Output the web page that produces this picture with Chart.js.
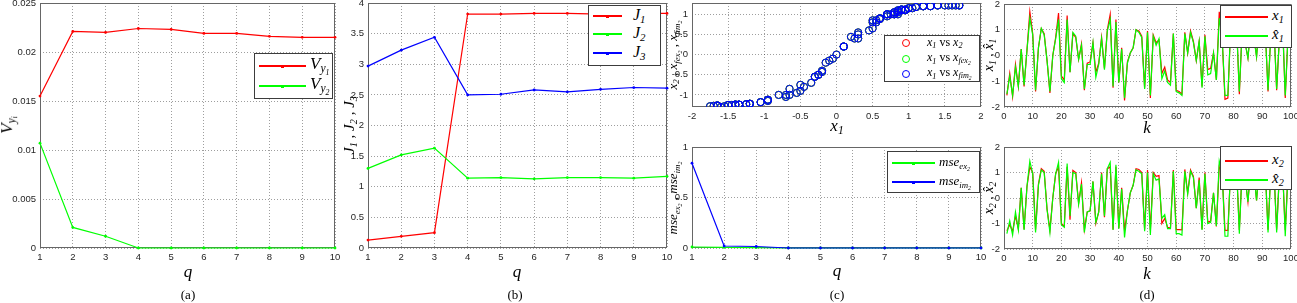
<!DOCTYPE html>
<html>
<head>
<meta charset="utf-8">
<script src="https://cdn.jsdelivr.net/npm/chart.js@4"></script>
<style>
body { margin: 0; background: #fff; }
#fig { position: relative; width: 1297px; height: 303px; overflow: hidden; background: #fff; }
#fig canvas { position: absolute; }
.m { position: absolute; font-family: "Liberation Serif", serif; font-style: italic; white-space: nowrap; color: #000; line-height: 1; }
.m sub { font-size: 68%; vertical-align: -0.3em; }
.m .r { font-style: normal; }
.rot { transform: translate(-50%, -50%) rotate(-90deg); }
.ctr { transform: translate(-50%, -50%); }
.lft { transform: translate(0, -50%); }
.cap { position: absolute; font-family: "Liberation Serif", serif; font-size: 13px; transform: translate(-50%, -50%); }
.leg { position: absolute; background: #fff; border: 1px solid #3c3c3c; box-sizing: border-box; }
.ln { position: absolute; height: 1.5px; }
.dot { position: absolute; width: 3px; height: 3px; }
.circ { position: absolute; width: 8px; height: 8px; border: 1.2px solid; border-radius: 50%; box-sizing: border-box; }
</style>
</head>
<body>
<div id="fig"></div>
<script>
// ---- dados ----
const qs = [1, 2, 3, 4, 5, 6, 7, 8, 9, 10];

// (a)
const Vy1 = [0.0155, 0.0221, 0.0220, 0.0224, 0.0223, 0.0219, 0.0219, 0.0216, 0.0215, 0.0215];
const Vy2 = [0.0107, 0.0021, 0.0012, 0, 0, 0, 0, 0, 0, 0];

// (b)
const J1 = [0.13, 0.19, 0.25, 3.82, 3.82, 3.83, 3.83, 3.82, 3.83, 3.83];
const J2 = [1.30, 1.52, 1.63, 1.14, 1.15, 1.13, 1.15, 1.15, 1.14, 1.17];
const J3 = [2.97, 3.23, 3.44, 2.50, 2.51, 2.58, 2.55, 2.59, 2.62, 2.61];

// (c) baixo
const mseEx2 = [0.010, 0.006, 0.004, 0, 0, 0, 0, 0, 0, 0];
const mseIm2 = [0.84, 0.02, 0.015, 0, 0, 0, 0, 0, 0, 0];

// (d) k = 1..100
const ks = Array.from({ length: 100 }, (_, i) => i + 1);
const x1 = [-1.55, -0.70, -1.60, -0.35, -1.20, 0.25, -1.20, 0.20, 1.70, 0.85,
  -1.40, 0.30, 1.05, 0.85, -0.20, -1.45, 0.00, 0.70, 1.65, -0.80,
  -0.95, 1.55, -0.65, 0.85, 0.70, -0.15, 0.45, -1.35, -0.30, -0.25,
  0.50, -0.65, -0.30, 0.70, -0.50, 1.00, 1.60, -1.25, 1.40, -1.05,
  0.30, -1.75, -0.25, 0.10, 0.30, 1.00, 0.95, 0.75, -1.25, 0.95,
  -1.65, 0.80, 0.50, 0.60, -0.70, -0.45, -0.95, -1.05, 0.85, -1.35,
  -1.40, -1.50, 0.90, 0.10, 0.95, 0.55, -0.20, 0.55, -1.20, 0.80,
  -0.55, -0.50, 0.10, -0.95, 1.70, 0.70, -1.70, -1.65, 1.20, 0.60,
  1.30, -1.50, 1.10, 0.50, -0.10, 1.20, 0.80, -0.05, 1.40, 0.60,
  1.10, -1.40, 0.90, 1.30, -1.35, 0.80, 1.50, -1.65, 0.90, 1.20];
const x1hat = [-1.50, -0.80, -1.55, -0.45, -1.20, 0.25, -1.15, 0.20, 1.45, 0.80,
  -1.35, 0.30, 1.05, 0.80, -0.20, -1.40, 0.00, 0.65, 1.40, -0.90,
  -1.05, 1.40, -0.65, 0.90, 0.75, -0.15, 0.40, -1.30, -0.35, -0.35,
  0.50, -0.85, -0.35, 0.65, -0.55, 0.95, 1.40, -1.20, 1.30, -1.05,
  0.25, -1.65, -0.30, 0.10, 0.30, 1.00, 0.90, 0.70, -1.30, 0.90,
  -1.55, 0.75, 0.40, 0.65, -0.90, -0.60, -1.05, -1.15, 0.85, -1.40,
  -1.45, -1.55, 0.85, 0.10, 0.90, 0.50, -0.20, 0.55, -1.25, 0.75,
  -0.75, -0.70, 0.10, -0.95, 1.45, 0.70, -1.55, -1.55, 1.10, 0.60,
  1.20, -1.40, 1.00, 0.50, -0.10, 1.10, 0.75, -0.05, 1.25, 0.60,
  1.00, -1.35, 0.85, 1.20, -1.30, 0.75, 1.35, -1.55, 0.85, 1.10];
const x2 = [-1.28, -1.05, -1.30, -0.70, -1.22, 0.40, -1.22, 0.44, 1.22, 1.00,
  -1.24, 0.55, 1.15, 1.05, -0.43, -1.25, 0.00, 0.95, 1.22, -1.00,
  -1.12, 1.22, -0.85, 1.08, 1.00, -0.20, 0.60, -1.24, -0.55, -0.50,
  0.65, -1.00, -0.55, 1.00, -0.75, 1.15, 1.22, -1.23, 1.22, -1.18,
  0.40, -1.28, -0.50, 0.20, 0.50, 1.15, 1.12, 1.00, -1.23, 1.10,
  -1.26, 1.00, 0.85, 0.88, -1.00, -0.80, -1.15, -1.18, 1.10, -1.24,
  -1.24, -1.25, 1.12, 0.20, 1.10, 0.85, -0.40, 0.80, -1.22, 1.00,
  -0.95, -0.90, 0.20, -1.12, 1.22, 1.00, -1.27, -1.27, 1.20, 0.90,
  1.20, -1.25, 1.18, 0.80, -0.15, 1.20, 1.05, -0.10, 1.22, 0.90,
  1.18, -1.24, 1.12, 1.20, -1.24, 1.05, 1.22, -1.26, 1.10, 1.20];
const x2hat = [-1.40, -0.90, -1.45, -0.55, -1.25, 0.40, -1.25, 0.45, 1.45, 0.95,
  -1.35, 0.50, 1.10, 1.00, -0.45, -1.35, 0.00, 0.95, 1.40, -1.05,
  -1.15, 1.35, -0.70, 1.00, 0.95, -0.25, 0.55, -1.35, -0.55, -0.50,
  0.65, -0.95, -0.55, 0.95, -0.70, 1.15, 1.40, -1.25, 1.30, -1.20,
  0.35, -1.55, -0.50, 0.20, 0.50, 1.10, 1.05, 0.95, -1.30, 1.00,
  -1.45, 0.95, 0.70, 0.75, -0.80, -0.65, -1.20, -1.20, 1.05, -1.40,
  -1.40, -1.45, 1.05, 0.15, 1.05, 0.80, -0.40, 0.70, -1.25, 0.95,
  -1.00, -0.95, 0.20, -1.10, 1.45, 1.00, -1.50, -1.50, 1.30, 0.90,
  1.30, -1.40, 1.20, 0.80, -0.15, 1.25, 1.05, -0.10, 1.35, 0.90,
  1.20, -1.35, 1.10, 1.30, -1.35, 1.05, 1.40, -1.50, 1.10, 1.35];
// estimativas de x2 no grafico (c): praticamente sobrepostas a x2
const xfex2 = x2;
const xfim2 = x2;

// ---- estilo ----
const RED = "#ff0000", GREEN = "#00ff00", BLUE = "#0000ff";
const gridColor = "rgba(0,0,0,0.38)";
const tickFont = { family: "Liberation Sans", size: 9.5 };
const fig = document.getElementById("fig");

function fmt(v) { return String(parseFloat(Number(v).toFixed(6))); }

// moldura do eixo (box on), por baixo das curvas
const frame = {
    id: "frame",
    beforeDatasetsDraw(chart) {
        const { ctx, chartArea: a } = chart;
        ctx.save();
        ctx.strokeStyle = "#666";
        ctx.lineWidth = 1;
        ctx.strokeRect(Math.round(a.left) + 0.5, Math.round(a.top) + 0.5,
            Math.round(a.right - a.left) - 1, Math.round(a.bottom - a.top) - 1);
        ctx.restore();
    }
};

function axis(min, max, step, isX, size) {
    return {
        type: "linear", min: min, max: max,
        grid: { color: gridColor, drawTicks: false, lineWidth: 1 },
        border: { display: false, dash: [1, 2] },
        ticks: { stepSize: step, color: "#262626", font: tickFont, padding: 4,
            maxRotation: 0, autoSkip: false, includeBounds: false, callback: fmt },
        afterFit: isX ? s => { s.height = size; } : s => { s.width = size; }
    };
}

function pts(xs, ys) { return xs.map((x, i) => ({ x: x, y: ys[i] })); }

function line(label, xs, ys, color, marks) {
    return { label: label, data: pts(xs, ys), borderColor: color, backgroundColor: color,
        borderWidth: 1.2, pointRadius: marks ? 1.4 : 0, pointBorderWidth: 0, tension: 0, clip: 4 };
}

function painel(plot, yW, xH, type, datasets, xr, yr) {
    const padT = 12, padR = 16;
    const c = document.createElement("canvas");
    c.width = yW + plot.r - plot.l + padR;
    c.height = padT + plot.b - plot.t + xH;
    c.style.left = (plot.l - yW) + "px";
    c.style.top = (plot.t - padT) + "px";
    fig.appendChild(c);
    // como no MATLAB: a serie desenhada por ultimo fica por cima
    datasets.forEach((d, i) => { d.order = -i; });
    return new Chart(c, {
        type: type,
        data: { datasets: datasets },
        options: {
            responsive: false, animation: false, devicePixelRatio: 1,
            layout: { padding: { top: padT, right: padR, left: 0, bottom: 0 } },
            plugins: { legend: { display: false }, tooltip: { enabled: false } },
            scales: { x: axis(xr[0], xr[1], xr[2], true, xH), y: axis(yr[0], yr[1], yr[2], false, yW) }
        },
        plugins: [frame]
    });
}

// (a)
painel({ l: 40, r: 335, t: 3, b: 248 }, 40, 20, "line",
    [line("Vy1", qs, Vy1, RED, true), line("Vy2", qs, Vy2, GREEN, true)],
    [1, 10, 1], [0, 0.025, 0.005]);
// (b)
painel({ l: 368, r: 667, t: 3, b: 248 }, 36, 20, "line",
    [line("J1", qs, J1, RED, true), line("J2", qs, J2, GREEN, true), line("J3", qs, J3, BLUE, true)],
    [1, 10, 1], [0, 4, 0.5]);
// (c) cima - dispersao
function circ(label, xs, ys, color) {
    return { label: label, data: pts(xs, ys), borderColor: color, backgroundColor: "rgba(0,0,0,0)",
        pointRadius: 3.6, pointBorderWidth: 1, showLine: false };
}
painel({ l: 692, r: 981, t: 3, b: 107 }, 30, 20, "scatter",
    [circ("x1 vs x2", x1, x2, RED), circ("x1 vs xfex2", x1, xfex2, GREEN), circ("x1 vs xfim2", x1, xfim2, BLUE)],
    [-2, 2, 0.5], [-1.3, 1.28, 0.5]);
// (c) baixo
painel({ l: 692, r: 981, t: 147, b: 248 }, 30, 20, "line",
    [line("mse_ex2", qs, mseEx2, GREEN, true), line("mse_im2", qs, mseIm2, BLUE, true)],
    [1, 10, 1], [0, 1, 0.5]);
// (d)
painel({ l: 1004, r: 1291, t: 4, b: 107 }, 20, 20, "line",
    [line("x1", ks, x1, RED, false), line("x1hat", ks, x1hat, GREEN, false)],
    [0, 100, 10], [-2, 2, 1]);
painel({ l: 1004, r: 1291, t: 147, b: 249 }, 20, 20, "line",
    [line("x2", ks, x2, RED, false), line("x2hat", ks, x2hat, GREEN, false)],
    [0, 100, 10], [-2, 2, 1]);

// ---- textos (titulos, legendas, legendas de painel) ----
function el(cls, css, html) {
    const d = document.createElement("div");
    d.className = cls;
    Object.assign(d.style, css);
    if (html) d.innerHTML = html;
    fig.appendChild(d);
    return d;
}
function txt(html, x, y, size, mode) {
    el("m " + mode, { left: x + "px", top: y + "px", fontSize: size + "px" }, html);
}
function legenda(box, rows) {
    el("leg", { left: box.l + "px", top: box.t + "px", width: (box.r - box.l) + "px", height: (box.b - box.t) + "px" });
    rows.forEach(r => {
        if (r.circle) {
            el("circ", { left: (r.circle - 4) + "px", top: (r.y - 4) + "px", borderColor: r.c });
        } else {
            el("ln", { left: r.x0 + "px", top: (r.y - 0.75) + "px", width: (r.x1 - r.x0) + "px", background: r.c });
            if (r.dot) el("dot", { left: ((r.x0 + r.x1) / 2 - 1.5) + "px", top: (r.y - 1.5) + "px", background: r.c });
        }
        txt(r.html, r.tx, r.y, r.size, "lft");
    });
}

// eixos
txt("<i>V</i><sub><i>y</i><sub><i>i</i></sub></sub>", 9, 125, 17, "rot");
txt("q", 188, 271, 17, "ctr");
txt("J<sub>1</sub> , J<sub>2</sub> , J<sub>3</sub>", 351, 125, 15, "rot");
txt("q", 517, 271, 17, "ctr");
txt("x<sub>2</sub> , x<sub>fex<sub>2</sub></sub> , x<sub>fim<sub>2</sub></sub>", 674, 55, 13, "rot");
txt("x<sub>1</sub>", 837, 127, 17, "ctr");
txt("mse<sub>ex<sub>2</sub></sub> , mse<sub>im<sub>2</sub></sub>", 674, 198, 13, "rot");
txt("q", 837, 270, 17, "ctr");
txt("x<sub>1</sub> , x&#770;<sub>1</sub>", 990, 55, 14, "rot");
txt("k", 1147, 127, 17, "ctr");
txt("x<sub>2</sub> , x&#770;<sub>2</sub>", 990, 198, 14, "rot");
txt("k", 1147, 273, 17, "ctr");

// legendas
legenda({ l: 254, t: 53, r: 333, b: 99 }, [
    { y: 66, c: RED, x0: 259, x1: 306, dot: true, tx: 310, size: 17, html: "V<sub>y<sub>1</sub></sub>" },
    { y: 86, c: GREEN, x0: 259, x1: 306, dot: true, tx: 310, size: 17, html: "V<sub>y<sub>2</sub></sub>" }
]);
legenda({ l: 588, t: 5, r: 661, b: 66 }, [
    { y: 16, c: RED, x0: 593, x1: 622, dot: true, tx: 633, size: 16, html: "J<sub>1</sub>" },
    { y: 34, c: GREEN, x0: 593, x1: 622, dot: true, tx: 633, size: 16, html: "J<sub>2</sub>" },
    { y: 53, c: BLUE, x0: 593, x1: 622, dot: true, tx: 633, size: 16, html: "J<sub>3</sub>" }
]);
legenda({ l: 884, t: 35, r: 980, b: 82 }, [
    { y: 43, c: RED, circle: 906, tx: 927, size: 12, html: "x<sub>1</sub> <span class='r'>vs</span> x<sub>2</sub>" },
    { y: 59, c: GREEN, circle: 906, tx: 927, size: 12, html: "x<sub>1</sub> <span class='r'>vs</span> x<sub>fex<sub>2</sub></sub>" },
    { y: 74, c: BLUE, circle: 906, tx: 927, size: 12, html: "x<sub>1</sub> <span class='r'>vs</span> x<sub>fim<sub>2</sub></sub>" }
]);
legenda({ l: 887, t: 151, r: 980, b: 193 }, [
    { y: 163, c: GREEN, x0: 892, x1: 935, dot: true, tx: 939, size: 13, html: "mse<sub>ex<sub>2</sub></sub>" },
    { y: 182, c: BLUE, x0: 892, x1: 935, dot: true, tx: 939, size: 13, html: "mse<sub>im<sub>2</sub></sub>" }
]);
legenda({ l: 1220, t: 5, r: 1292, b: 48 }, [
    { y: 17, c: RED, x0: 1225, x1: 1268, tx: 1272, size: 15, html: "x<sub>1</sub>" },
    { y: 36, c: GREEN, x0: 1225, x1: 1268, tx: 1272, size: 15, html: "x&#770;<sub>1</sub>" }
]);
legenda({ l: 1220, t: 146, r: 1292, b: 190 }, [
    { y: 161, c: RED, x0: 1225, x1: 1268, tx: 1272, size: 15, html: "x<sub>2</sub>" },
    { y: 180, c: GREEN, x0: 1225, x1: 1268, tx: 1272, size: 15, html: "x&#770;<sub>2</sub>" }
]);

// legendas dos paineis
[["(a)", 188], ["(b)", 515], ["(c)", 837], ["(d)", 1147]].forEach(([t, x]) => {
    el("cap", { left: x + "px", top: "295px" }, t);
});
</script>
</body>
</html>
